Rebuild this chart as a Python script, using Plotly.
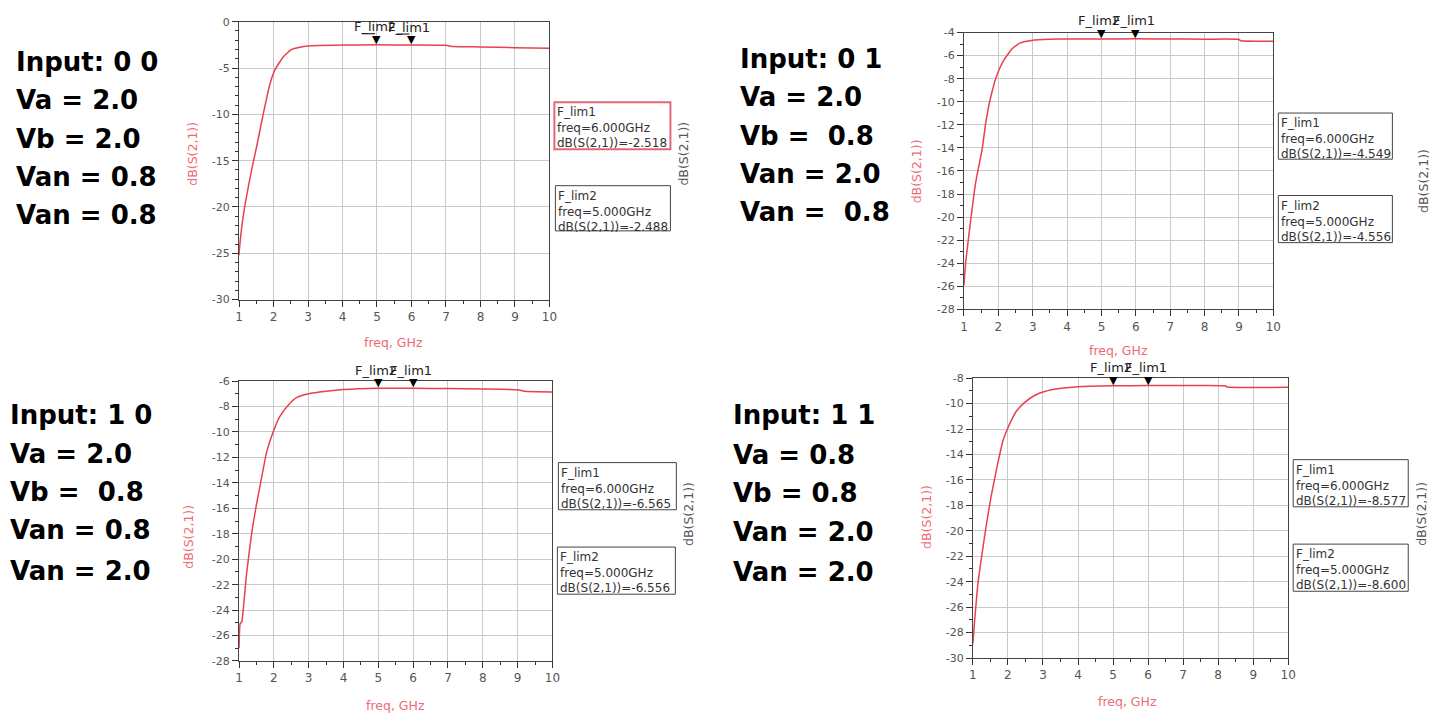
import plotly.graph_objects as go

W, H = 1446, 721

# ---------------- data ----------------
freq_00 = [1.0, 1.02, 1.125, 1.365, 1.51, 1.70, 1.89, 2.04, 2.28, 2.52, 2.76, 3.0, 4.0, 5.0, 6.0, 7.0, 7.2, 8.0, 9.0, 10.0]
s21_00 = [-25.2, -24.2, -20.9, -16.0, -13.5, -10.0, -6.8, -5.2, -3.8, -3.0, -2.75, -2.62, -2.52, -2.488, -2.518, -2.55, -2.68, -2.72, -2.8, -2.86]

freq_01 = [1.0, 1.05, 1.19, 1.34, 1.53, 1.63, 1.77, 1.97, 2.16, 2.40, 2.64, 3.0, 3.5, 4.0, 5.0, 6.0, 7.0, 8.0, 9.0, 9.05, 10.0]
s21_01 = [-25.9, -23.9, -20.4, -17.0, -14.1, -11.9, -9.7, -7.6, -6.4, -5.4, -4.9, -4.66, -4.58, -4.56, -4.556, -4.549, -4.56, -4.58, -4.6, -4.72, -4.75]

freq_10 = [1.0, 1.03, 1.08, 1.21, 1.36, 1.50, 1.64, 1.79, 1.98, 2.17, 2.41, 2.65, 3.0, 3.5, 4.0, 5.0, 6.0, 7.0, 8.0, 9.0, 9.2, 10.0]
s21_10 = [-27.0, -25.1, -24.9, -21.3, -18.0, -15.7, -13.7, -11.6, -10.0, -8.8, -7.9, -7.3, -7.0, -6.8, -6.66, -6.556, -6.565, -6.58, -6.62, -6.68, -6.8, -6.85]

freq_11 = [1.0, 1.05, 1.14, 1.24, 1.38, 1.52, 1.71, 1.86, 2.0, 2.24, 2.48, 2.76, 3.05, 3.52, 4.0, 5.0, 6.0, 7.0, 8.2, 8.25, 10.0]
s21_11 = [-28.85, -27.05, -24.2, -22.2, -19.6, -17.3, -14.7, -12.9, -11.9, -10.6, -9.9, -9.36, -9.05, -8.8, -8.67, -8.600, -8.577, -8.58, -8.6, -8.7, -8.72]

marker_freqs = [5.0, 6.0]            # F_lim2, F_lim1
marker_names = ["F_lim2", "F_lim1"]
marker_vals = {
    "00": [-2.488, -2.518],
    "01": [-4.556, -4.549],
    "10": [-6.556, -6.565],
    "11": [-8.600, -8.577],
}

input_labels = {
    "00": ["Input: 0 0", "Va = 2.0", "Vb = 2.0", "Van = 0.8", "Van = 0.8"],
    "01": ["Input: 0 1", "Va = 2.0", "Vb =\u00a0 0.8", "Van = 2.0", "Van =\u00a0 0.8"],
    "10": ["Input: 1 0", "Va = 2.0", "Vb =\u00a0 0.8", "Van = 0.8", "Van = 2.0"],
    "11": ["Input: 1 1", "Va = 0.8", "Vb = 0.8", "Van = 2.0", "Van = 2.0"],
}

y_ranges = {"00": (-30, 0, 5), "01": (-28, -4, 2), "10": (-28, -6, 2), "11": (-30, -8, 2)}
x_ticks = list(range(1, 11))

# ---------------- layout geometry (pixels) ----------------
panels = {
    # key: (plot x0, x1, y_top, y_bottom)
    "00": (237, 550, 16, 299),
    "01": (968, 1280, 27, 309),
    "10": (237, 553, 382, 667),
    "11": (977, 1295, 379, 664),
}
text_pos = {  # left x, line centres
    "00": (10, [57, 96, 135, 174, 213]),
    "01": (740, [54, 93, 132, 171, 210]),
    "10": (4, [417, 456, 495, 534, 575]),
    "11": (733, [417, 457, 496, 536, 576]),
}
left_title = {"00": (190, 150), "01": (921, 168), "10": (186, 540), "11": (930, 520)}
right_title = {"00": (685, 150), "01": (1432, 178), "10": (690, 517), "11": (1430, 517)}
x_title = {"00": (393, 343), "01": (1124, 351), "10": (395, 712), "11": (1133, 708)}
boxes = {  # (x0, x1, y0, y1) for F_lim1 then F_lim2
    "00": [(555, 672, 98, 146), (556, 672, 183, 229)],
    "01": [(1285, 1400, 109, 156), (1285, 1400, 193, 241)],
    "10": [(559, 678, 465, 513), (558, 677, 551, 599)],
    "11": [(1300, 1416, 462, 510), (1300, 1416, 548, 596)],
}

def px(x):
    return x / W

def py(y):
    return 1 - y / H

FONT = "DejaVu Sans, Verdana, sans-serif"
RED = "#e8404e"
PINK = "#f06a74"

fig = go.Figure()
layout = dict(
    width=W, height=H, margin=dict(l=0, r=0, t=0, b=0),
    paper_bgcolor="white", plot_bgcolor="white", showlegend=False,
    font=dict(family=FONT, size=11, color="#444"),
)
annotations = []
shapes = []

data = {"00": (freq_00, s21_00), "01": (freq_01, s21_01), "10": (freq_10, s21_10), "11": (freq_11, s21_11)}

def label(x, y, text, size, color, angle=0):
    return dict(x=px(x), y=py(y), xref="paper", yref="paper", text=text, textangle=angle,
                showarrow=False, xanchor="center", yanchor="middle",
                font=dict(size=size, color=color))

for i, key in enumerate(["00", "01", "10", "11"]):
    n = "" if i == 0 else str(i + 1)
    xa, ya = "x" + n, "y" + n
    x0, x1, yt, yb = panels[key]
    ymin, ymax, ystep = y_ranges[key]
    fx, fy = data[key]
    fig.add_trace(go.Scatter(x=fx, y=fy, mode="lines", xaxis=xa, yaxis=ya,
                             line=dict(color=RED, width=1.5, shape="spline", smoothing=0.4),
                             hoverinfo="skip"))
    yt_vals = list(range(ymin, ymax + 1, ystep))
    layout["xaxis" + n] = dict(
        domain=[px(x0), px(x1)], range=[1, 10], anchor=ya,
        tickmode="array", tickvals=x_ticks, ticktext=[str(v) for v in x_ticks],
        ticks="outside", ticklen=6, tickcolor="#333", tickfont=dict(size=12, color="#555"),
        showgrid=True, gridcolor="#c9c9c9", gridwidth=1, zeroline=False,
        showline=True, linecolor="#444", linewidth=1, mirror=True,
        minor=dict(dtick=0.5, tick0=1, ticks="outside", ticklen=3, tickcolor="#333", showgrid=False),
        fixedrange=True,
    )
    layout["yaxis" + n] = dict(
        domain=[py(yb), py(yt)], range=[ymin, ymax], anchor=xa,
        tickmode="array", tickvals=yt_vals, ticktext=[str(v) for v in yt_vals],
        ticks="outside", ticklen=6, tickcolor="#333", tickfont=dict(size=11, color="#555"),
        showgrid=True, gridcolor="#c9c9c9", gridwidth=1, zeroline=False,
        showline=True, linecolor="#444", linewidth=1, mirror=True,
        minor=dict(dtick=1, tick0=0, ticks="outside", ticklen=3, tickcolor="#333", showgrid=False),
        fixedrange=True,
    )

    # marker triangles, leader lines and labels
    for mf, mname, mv in zip(marker_freqs, marker_names, marker_vals[key]):
        annotations.append(dict(x=mf, y=mv, xref=xa, yref=ya, text="\u25bc", showarrow=False,
                                font=dict(size=11, color="black"), xanchor="center",
                                yanchor="bottom", yshift=-3))
        shapes.append(dict(type="line", xref=xa, yref=ya, xsizemode="pixel", ysizemode="pixel",
                           xanchor=mf, yanchor=mv, x0=-15, x1=-2, y0=11, y1=11,
                           line=dict(color="black", width=1)))
        annotations.append(dict(x=mf, y=mv, xref=xa, yref=ya, text=mname, showarrow=False,
                                font=dict(size=13, color="#222"), xanchor="left", yanchor="middle",
                                xshift=-25, yshift=18))

    # marker readout boxes
    for (bx0, bx1, by0, by1), mname, mf, mv, border in zip(
            boxes[key], ["F_lim1", "F_lim2"], [6.0, 5.0],
            [marker_vals[key][1], marker_vals[key][0]],
            ["#e06878" if key == "00" else "#444", "#444"]):
        shapes.append(dict(type="rect", xref="paper", yref="paper",
                           x0=px(bx0), x1=px(bx1), y0=py(by1), y1=py(by0),
                           line=dict(color=border, width=2 if border != "#444" else 1)))
        txt = f"{mname}<br>freq={mf:.3f}GHz<br>dB(S(2,1))={mv:.3f}"
        annotations.append(dict(x=px(bx0 + 1), y=py(by0 + 1), xref="paper", yref="paper",
                                text=txt, showarrow=False, align="left",
                                xanchor="left", yanchor="top",
                                font=dict(size=12, color="#333")))

    # axis titles
    lx, ly = left_title[key]
    annotations.append(label(lx, ly, "dB(S(2,1))", 12.5, PINK, -90))
    rx, ry = right_title[key]
    annotations.append(label(rx, ry, "dB(S(2,1))", 12.5, "#555", -90))
    tx, ty = x_title[key]
    annotations.append(label(tx, ty, "freq, GHz", 12.5, PINK))

    # big bias labels
    lxp, lines_y = text_pos[key]
    for t, yy in zip(input_labels[key], lines_y):
        annotations.append(dict(x=px(lxp), y=py(yy), xref="paper", yref="paper", text=f"<b>{t}</b>",
                                showarrow=False, xanchor="left", yanchor="middle",
                                font=dict(size=26, color="black")))

layout["annotations"] = annotations
layout["shapes"] = shapes
fig.update_layout(**layout)
fig.write_html(
    "out.html",
    config={"displayModeBar": False},
    post_script=(
        "document.documentElement.style.margin='0';"
        "document.documentElement.style.overflow='hidden';"
        "document.body.style.margin='0';"
        "document.body.style.overflow='hidden';"
    ),
)
